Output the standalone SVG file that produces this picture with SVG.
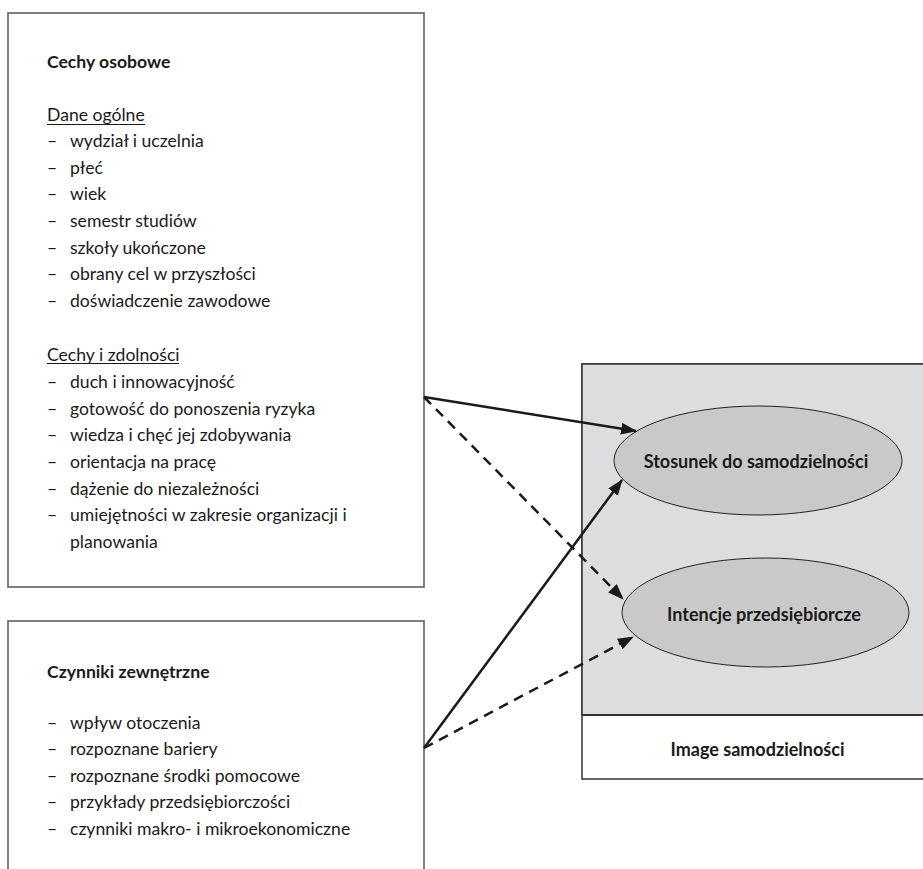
<svg xmlns="http://www.w3.org/2000/svg" width="923" height="869" viewBox="0 0 923 869">
<style>
text{font-family:Lato,"Open Sans","Liberation Sans",sans-serif;fill:#1a1a1a;}
.t{font-size:17.6px;}
.h{font-size:17.6px;font-weight:bold;}
.b{font-size:18px;font-weight:bold;}
.box{fill:#fff;stroke:#555;stroke-width:1.5;}
.ell{fill:#c9c9c9;stroke:#222;stroke-width:1;}
.ul{stroke:#1a1a1a;stroke-width:1.2;}
.con{stroke:#1a1a1a;stroke-width:2.5;fill:none;}
.dash{stroke-dasharray:10 7;}
</style>
<defs>
<marker id="ah" markerUnits="userSpaceOnUse" markerWidth="16" markerHeight="12" refX="15" refY="6" orient="auto">
<path d="M0,0 L16,6 L0,12 z" fill="#1a1a1a"/>
</marker>
</defs>
<rect width="923" height="869" fill="#fff"/>
<g id="cechy-osobowe">
<rect class="box" x="8" y="13" width="416" height="574"/>
<text class="h" x="47" y="68">Cechy osobowe</text>
<text class="t" x="47" y="120.5">Dane ogólne</text>
<line class="ul" x1="47" y1="124.5" x2="145" y2="124.5"/>
<text class="t"><tspan x="47" y="147">–</tspan><tspan x="70" y="147">wydział i uczelnia</tspan></text>
<text class="t"><tspan x="47" y="173.7">–</tspan><tspan x="70" y="173.7">płeć</tspan></text>
<text class="t"><tspan x="47" y="200.3">–</tspan><tspan x="70" y="200.3">wiek</tspan></text>
<text class="t"><tspan x="47" y="227">–</tspan><tspan x="70" y="227">semestr studiów</tspan></text>
<text class="t"><tspan x="47" y="253.7">–</tspan><tspan x="70" y="253.7">szkoły ukończone</tspan></text>
<text class="t"><tspan x="47" y="280.3">–</tspan><tspan x="70" y="280.3">obrany cel w przyszłości</tspan></text>
<text class="t"><tspan x="47" y="307">–</tspan><tspan x="70" y="307">doświadczenie zawodowe</tspan></text>
<text class="t" x="47" y="360.5">Cechy i zdolności</text>
<line class="ul" x1="47" y1="363.5" x2="179" y2="363.5"/>
<text class="t"><tspan x="47" y="388">–</tspan><tspan x="70" y="388">duch i innowacyjność</tspan></text>
<text class="t"><tspan x="47" y="414.7">–</tspan><tspan x="70" y="414.7">gotowość do ponoszenia ryzyka</tspan></text>
<text class="t"><tspan x="47" y="441.3">–</tspan><tspan x="70" y="441.3">wiedza i chęć jej zdobywania</tspan></text>
<text class="t"><tspan x="47" y="468">–</tspan><tspan x="70" y="468">orientacja na pracę</tspan></text>
<text class="t"><tspan x="47" y="494.7">–</tspan><tspan x="70" y="494.7">dążenie do niezależności</tspan></text>
<text class="t"><tspan x="47" y="521.3">–</tspan><tspan x="70" y="521.3">umiejętności w zakresie organizacji i</tspan></text>
<text class="t" x="70" y="548">planowania</text>
</g>
<g id="czynniki-zewnetrzne">
<rect class="box" x="8" y="621" width="416" height="260"/>
<text class="h" x="47" y="677.5">Czynniki zewnętrzne</text>
<text class="t"><tspan x="47" y="728.5">–</tspan><tspan x="70" y="728.5">wpływ otoczenia</tspan></text>
<text class="t"><tspan x="47" y="755">–</tspan><tspan x="70" y="755">rozpoznane bariery</tspan></text>
<text class="t"><tspan x="47" y="781.7">–</tspan><tspan x="70" y="781.7">rozpoznane środki pomocowe</tspan></text>
<text class="t"><tspan x="47" y="808.3">–</tspan><tspan x="70" y="808.3">przykłady przedsiębiorczości</tspan></text>
<text class="t"><tspan x="47" y="835">–</tspan><tspan x="70" y="835">czynniki makro- i mikroekonomiczne</tspan></text>
</g>
<g id="image-samodzielnosci">
<rect x="582" y="364" width="360" height="415" fill="#fff" stroke="#333" stroke-width="1.5"/>
<rect x="582" y="364" width="360" height="351" fill="#dcdddf" stroke="#333" stroke-width="1.5"/>
<line x1="582" y1="715" x2="942" y2="715" stroke="#333" stroke-width="2"/>
<text class="b" x="757.5" y="756" text-anchor="middle">Image samodzielności</text>
</g>
<g id="stosunek">
<ellipse class="ell" cx="758" cy="460.5" rx="144" ry="54.5"/>
<text class="b" x="756" y="468" text-anchor="middle">Stosunek do samodzielności</text>
</g>
<g id="intencje">
<ellipse class="ell" cx="765.5" cy="612.5" rx="143.5" ry="54.5"/>
<text class="b" x="764" y="620.5" text-anchor="middle">Intencje przedsiębiorcze</text>
</g>
<g id="connectors">
<line class="con" x1="424" y1="397" x2="636" y2="431" marker-end="url(#ah)"/>
<line class="con dash" x1="424" y1="397" x2="623" y2="599" marker-end="url(#ah)"/>
<line class="con" x1="424" y1="748" x2="622" y2="480" marker-end="url(#ah)"/>
<line class="con dash" x1="424" y1="748" x2="633" y2="637" marker-end="url(#ah)"/>
</g>
</svg>
